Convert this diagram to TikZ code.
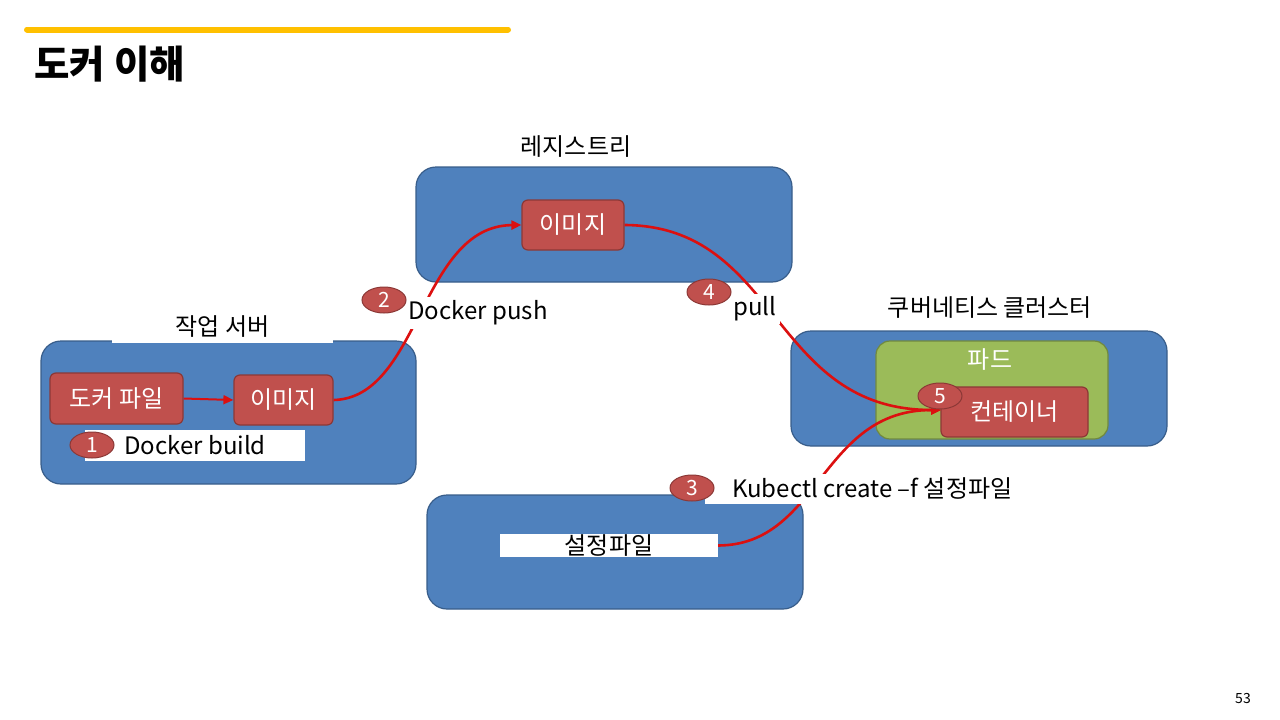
\documentclass[tikz,border=0pt]{standalone}
\usepackage{fontspec}
\setmainfont{Noto Sans CJK KR}
\usetikzlibrary{arrows.meta,shapes.geometric}
\definecolor{bbox}{HTML}{4F81BD}
\definecolor{bline}{HTML}{385D8A}
\definecolor{rbox}{HTML}{C0504D}
\definecolor{rline}{HTML}{8C3836}
\definecolor{gbox}{HTML}{9BBB59}
\definecolor{gline}{HTML}{71893F}
\definecolor{arr}{HTML}{DC1010}
\definecolor{gold}{HTML}{FFC000}
\tikzset{
  bluebox/.style={draw=bline, fill=bbox, line width=1.2pt, rounded corners=20pt, inner sep=0pt},
  podbox/.style={draw=gline, fill=gbox, line width=1.2pt, rounded corners=14pt, inner sep=0pt},
  redbox/.style={draw=rline, fill=rbox, line width=1.2pt, rounded corners=6pt, inner sep=0pt, text=white, font=\fontsize{24}{28}\selectfont},
  lbl/.style={fill=white, inner sep=0pt, text=black, font=\fontsize{24}{28}\selectfont},
  num/.style={ellipse, draw=rline, fill=rbox, line width=1pt, minimum width=44pt, minimum height=26pt, inner sep=0pt, text=white, font=\fontsize{21}{24}\selectfont},
  flow/.style={draw=arr, line width=2.6pt, -{Triangle[length=10pt,width=9pt]}}
}
\begin{document}
\begin{tikzpicture}[x=1pt,y=-1pt]
\useasboundingbox (0,0) rectangle (1280,720);
% header
\draw[gold, line width=6pt, line cap=round] (27,29.5) -- (508,29.5);
\node[anchor=west, font=\fontsize{38.5}{42}\selectfont\bfseries] (title) at (31,64) {도커 이해};
\node[font=\fontsize{14}{16}\selectfont] (page) at (1243,699) {53};
% blue boxes
\node[bluebox, minimum width=375pt, minimum height=143pt] (ws) at (228.5,412.5) {};
\node[bluebox, minimum width=376pt, minimum height=115pt] (reg) at (604,224.5) {};
\node[bluebox, minimum width=376pt, minimum height=115pt] (k8s) at (979,388.5) {};
\node[bluebox, minimum width=376pt, minimum height=114pt] (cfgbox) at (615,552) {};
\node[podbox, minimum width=232pt, minimum height=98pt] (pod) at (992,390) {};
\node[text=white, font=\fontsize{24}{28}\selectfont] (podlbl) at (990,360) {파드};
% red boxes
\node[redbox, minimum width=133pt, minimum height=51pt] (df) at (116.5,398.5) {도커 파일};
\node[redbox, minimum width=99pt, minimum height=50pt] (img1) at (283.5,400) {이미지};
\node[redbox, minimum width=102pt, minimum height=50pt] (img2) at (573,225) {이미지};
\node[redbox, minimum width=147pt, minimum height=50pt] (ctr) at (1014.5,412) {컨테이너};
% config file label
\node[lbl, minimum width=218pt, minimum height=23pt] (cfg) at (609,545.5) {설정파일};
% connectors
\coordinate (ctrin) at (941,410);
\draw[flow, line width=2pt] (df.east) -- (img1.west);
\draw[flow] (img1.east) .. controls (420,398) and (420,226) .. (img2.west);
\draw[flow] (img2.east) .. controls (780,226) and (770,410) .. (ctrin);
\draw[flow] (cfg.east) .. controls (820,545) and (820,410) .. (ctrin);
% labels with white background
\node[lbl, minimum width=221pt, minimum height=32pt] (wslbl) at (222.5,327) {작업 서버};
\node[lbl, minimum width=60pt] (reglbl) at (576,147) {레지스트리};
\node[lbl] (k8slbl) at (990,308) {쿠버네티스 클러스터};
\node[lbl, minimum width=220pt, minimum height=31pt] (build) at (195,445.5) {\hspace*{20pt}Docker build\hspace*{20pt}};
\node[lbl, minimum width=150pt, minimum height=32pt] (push) at (478,313) {Docker push};
\node[lbl, minimum width=50pt, minimum height=30pt] (pull) at (755,309) {pull};
\node[lbl, minimum height=30pt, inner xsep=0pt, anchor=west, text depth=4pt, text height=20pt] (kube) at (732,489) {Kubectl create –f 설정파일};
\fill[white] (705,474) rectangle (732,504);
% numbers
\node[num] (n1) at (92,445) {1};
\node[num] (n2) at (384,300) {2};
\node[num] (n3) at (692,488) {3};
\node[num] (n4) at (709,292) {4};
\node[num] (n5) at (940,396) {5};
\end{tikzpicture}
\end{document}
